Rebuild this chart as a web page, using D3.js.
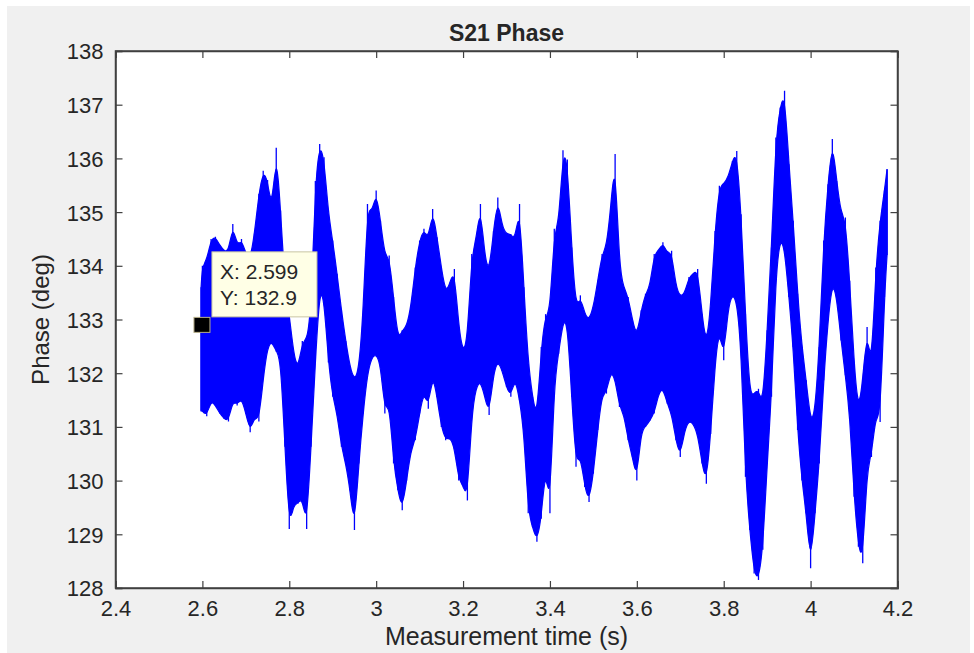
<!DOCTYPE html>
<html>
<head>
<meta charset="utf-8">
<script src="https://cdn.jsdelivr.net/npm/d3@7"></script>
<style>
  html, body { margin: 0; padding: 0; background: #ffffff; }
  svg { display: block; }
  text { font-family: "Liberation Sans", Arial, Helvetica, sans-serif; fill: #262626; }
</style>
</head>
<body>
<svg id="chart" width="974" height="653"></svg>
<script>
// ---- data ----
const chartTitle = "S21 Phase";
const xLabel = "Measurement time (s)";
const yLabel = "Phase (deg)";
const xTicks = [2.4, 2.6, 2.8, 3, 3.2, 3.4, 3.6, 3.8, 4, 4.2];
const yTicks = [128, 129, 130, 131, 132, 133, 134, 135, 136, 137, 138];

// sample times (s)
const times = [2.597,
  2.60, 2.61, 2.62, 2.63, 2.64, 2.65, 2.66, 2.67, 2.68, 2.69,
  2.70, 2.71, 2.72, 2.73, 2.74, 2.75, 2.76, 2.77, 2.78, 2.79,
  2.80, 2.81, 2.82, 2.83, 2.84, 2.85, 2.86, 2.87, 2.88, 2.89,
  2.90, 2.91, 2.92, 2.93, 2.94, 2.95, 2.96, 2.97, 2.98, 2.99,
  3.00, 3.01, 3.02, 3.03, 3.04, 3.05, 3.06, 3.07, 3.08, 3.09,
  3.10, 3.11, 3.12, 3.13, 3.14, 3.15, 3.16, 3.17, 3.18, 3.19,
  3.20, 3.21, 3.22, 3.23, 3.24, 3.25, 3.26, 3.27, 3.28, 3.29,
  3.30, 3.31, 3.32, 3.33, 3.34, 3.35, 3.36, 3.37, 3.38, 3.39,
  3.40, 3.41, 3.42, 3.43, 3.44, 3.45, 3.46, 3.47, 3.48, 3.49,
  3.50, 3.51, 3.52, 3.53, 3.54, 3.55, 3.56, 3.57, 3.58, 3.59,
  3.60, 3.61, 3.62, 3.63, 3.64, 3.65, 3.66, 3.67, 3.68, 3.69,
  3.70, 3.71, 3.72, 3.73, 3.74, 3.75, 3.76, 3.77, 3.78, 3.79,
  3.80, 3.81, 3.82, 3.83, 3.84, 3.85, 3.86, 3.87, 3.88, 3.89,
  3.90, 3.91, 3.92, 3.93, 3.94, 3.95, 3.96, 3.97, 3.98, 3.99,
  4.00, 4.01, 4.02, 4.03, 4.04, 4.05, 4.06, 4.07, 4.08, 4.09,
  4.10, 4.11, 4.12, 4.13, 4.14, 4.15, 4.16, 4.17, 4.176];

// upper envelope of the noisy phase trace (deg)
const phaseHigh = [133.6,
  134.0, 134.1, 134.5, 134.54, 134.38, 134.28, 134.25, 134.78, 134.35, 134.5,
  134.22, 134.1, 134.6, 135.34, 135.77, 135.6, 135.0, 136.2, 135.03, 133.6,
  133.1, 132.36, 132.05, 132.6, 132.6, 133.1, 135.58, 136.27, 136.02, 134.96,
  134.47, 133.85, 133.17, 132.6, 132.1, 131.86, 132.05, 133.1, 135.15, 134.96,
  135.4, 134.84, 134.16, 134.19, 133.42, 132.61, 132.8, 132.86, 133.23, 133.97,
  134.47, 134.69, 134.47, 135.06, 134.53, 133.97, 133.48, 133.69, 133.94, 132.86,
  132.36, 132.61, 134.22, 134.47, 135.15, 134.16, 133.85, 134.65, 135.27, 134.72,
  134.59, 134.59, 134.47, 135.15, 133.6, 132.17, 131.56, 131.12, 132.49, 133.1,
  133.1, 134.69, 134.72, 136.15, 135.98, 134.34, 133.17, 133.45, 133.1, 132.98,
  133.23, 133.72, 134.22, 134.34, 135.09, 136.08, 133.91, 133.6, 133.42, 132.98,
  132.67, 133.17, 133.48, 133.6, 134.22, 134.28, 134.44, 134.22, 134.28, 133.6,
  133.42, 133.48, 133.79, 133.85, 133.94, 133.1, 132.49, 133.23, 134.65, 135.49,
  135.52, 135.64, 135.95, 136.14, 134.96, 133.1, 131.56, 131.62, 131.71, 131.37,
  132.8, 134.34, 136.39, 136.95, 137.26, 135.89, 134.84, 133.48, 132.49, 131.87,
  131.06, 131.25, 132.49, 134.47, 135.52, 136.36, 135.58, 134.96, 134.9, 133.72,
  132.18, 131.25, 131.87, 132.86, 132.0, 133.97, 134.84, 135.4, 135.8];

// lower envelope of the noisy phase trace (deg)
const phaseLow = [131.3,
  131.3, 131.2, 131.5, 131.4, 131.25, 131.15, 131.1, 131.5, 131.4, 131.55,
  131.25, 130.9, 131.2, 131.1, 131.9, 132.5, 132.6, 132.4, 132.3, 130.63,
  129.1, 129.57, 129.57, 129.7, 129.1, 130.63, 132.2, 133.6, 133.4, 132.2,
  131.56, 131.25, 130.63, 130.32, 129.82, 129.08, 130.32, 131.25, 132.0, 132.3,
  132.36, 132.18, 131.25, 131.49, 130.32, 129.82, 129.45, 130.0, 130.57, 130.75,
  131.25, 131.68, 131.34, 132.0, 131.56, 131.0, 130.75, 130.81, 130.63, 130.0,
  129.92, 129.63, 131.25, 131.74, 131.87, 131.56, 131.22, 132.0, 132.24, 132.05,
  131.74, 131.56, 131.93, 131.5, 130.94, 129.39, 129.14, 128.86, 129.29, 130.32,
  129.39, 131.87, 132.36, 132.98, 132.98, 131.56, 130.26, 130.5, 129.88, 129.6,
  130.13, 130.94, 131.62, 131.62, 132.05, 131.9, 131.37, 131.25, 130.75, 130.44,
  130.0, 130.94, 131.0, 131.12, 131.25, 131.62, 131.74, 131.43, 131.25, 130.75,
  130.44, 130.94, 131.12, 131.06, 130.87, 130.32, 129.94, 130.87, 132.18, 132.86,
  132.24, 133.23, 133.48, 133.35, 132.49, 130.07, 129.08, 128.27, 128.15, 128.71,
  130.32, 131.56, 133.85, 134.53, 134.34, 133.42, 132.49, 130.94, 130.0, 129.39,
  128.37, 129.39, 130.32, 131.87, 132.98, 133.72, 133.42, 132.61, 131.96, 131.25,
  129.7, 128.77, 128.46, 130.26, 130.44, 131.25, 131.09, 133.42, 134.2];

// data tip
const tipX = [2.599];
const tipY = [132.9];
const tipLines = ["X: 2.599", "Y: 132.9"];

// ---- drawing ----
const W = 974, H = 653;
const margin = { left: 115.5, right: 76.5, top: 51, bottom: 65 };
const svg = d3.select("#chart");

// figure background
svg.append("rect").attr("x", 0).attr("y", 0).attr("width", W).attr("height", H).attr("fill", "#ffffff");
svg.append("rect").attr("x", 7).attr("y", 6).attr("width", 963).attr("height", H - 6).attr("fill", "#f0f0f0");

const x = d3.scaleLinear().domain([2.4, 4.2]).range([margin.left, W - margin.right]);
const y = d3.scaleLinear().domain([128, 138]).range([H - margin.bottom, margin.top]);

const x0 = x.range()[0], x1 = x.range()[1], y0 = y.range()[1], y1 = y.range()[0];

// axes background
svg.append("rect").attr("x", x0).attr("y", y0).attr("width", x1 - x0).attr("height", y1 - y0).attr("fill", "#ffffff");

// data
const pts = times.map((t, i) => ({ t: t, hi: phaseHigh[i], lo: phaseLow[i] }));
svg.append("clipPath").attr("id", "clip").append("rect")
  .attr("x", x0).attr("y", y0).attr("width", x1 - x0).attr("height", y1 - y0);
const plot = svg.append("g").attr("clip-path", "url(#clip)");

// dense band of the trace
const area = d3.area().curve(d3.curveBasis).x(d => x(d.t)).y0(d => y(d.lo)).y1(d => y(d.hi));
plot.append("path").datum(pts).attr("d", area)
  .attr("fill", "#0000ff").attr("stroke", "#0000ff").attr("stroke-width", 1.2);

// thin noise spikes reaching the extreme values
plot.selectAll("line.spike").data(pts).enter().append("line").attr("class", "spike")
  .attr("x1", d => x(d.t)).attr("x2", d => x(d.t))
  .attr("y1", d => y(d.lo)).attr("y2", d => y(d.hi))
  .attr("stroke", "#0000ff").attr("stroke-width", 1.3);

// axes
const axisColor = "#404040";
const tickLen = 7;
const gBottom = svg.append("g").attr("transform", `translate(0,${y1})`)
  .call(d3.axisBottom(x).tickValues(xTicks).tickSize(-tickLen).tickPadding(12).tickFormat(d3.format("~g")));
const gTop = svg.append("g").attr("transform", `translate(0,${y0})`)
  .call(d3.axisTop(x).tickValues(xTicks).tickSize(-tickLen).tickFormat(""));
const gLeft = svg.append("g").attr("transform", `translate(${x0},0)`)
  .call(d3.axisLeft(y).tickValues(yTicks).tickSize(-tickLen).tickPadding(12).tickFormat(d3.format("~g")));
const gRight = svg.append("g").attr("transform", `translate(${x1},0)`)
  .call(d3.axisRight(y).tickValues(yTicks).tickSize(-tickLen).tickFormat(""));

[gBottom, gTop, gLeft, gRight].forEach(g => {
  g.select(".domain").attr("stroke", axisColor).attr("stroke-width", 1.5);
  g.selectAll(".tick line").attr("stroke", axisColor).attr("stroke-width", 1.2);
  g.selectAll(".tick text").attr("font-size", 22).attr("fill", "#262626")
    .attr("font-family", '"Liberation Sans", Arial, sans-serif');
});
gLeft.selectAll(".tick text").attr("dy", "0.36em");
gBottom.selectAll(".tick text").attr("dy", "0.71em");

// frame outline on top
svg.append("rect").attr("x", x0).attr("y", y0).attr("width", x1 - x0).attr("height", y1 - y0)
  .attr("fill", "none").attr("stroke", axisColor).attr("stroke-width", 1.5);

// title and labels
svg.append("text").attr("x", (x0 + x1) / 2).attr("y", 41).attr("text-anchor", "middle")
  .attr("font-size", 23).attr("font-weight", "bold").attr("fill", "#000000").text(chartTitle);
svg.append("text").attr("x", (x0 + x1) / 2).attr("y", 645).attr("text-anchor", "middle")
  .attr("font-size", 25).text(xLabel);
svg.append("text").attr("transform", `translate(49,${(y0 + y1) / 2}) rotate(-90)`).attr("text-anchor", "middle")
  .attr("font-size", 24).text(yLabel);

// data tip
const tipCx = x(tipX[0]), tipCy = y(tipY[0]);
const tip = svg.append("g");
tip.append("rect").attr("x", tipCx - 8).attr("y", tipCy - 7.5).attr("width", 16).attr("height", 15)
  .attr("fill", "#000000").attr("stroke", "#b8b08a").attr("stroke-width", 1);
const bx = tipCx + 10, by = tipCy - 73, bw = 105, bh = 65;
tip.append("rect").attr("x", bx).attr("y", by).attr("width", bw).attr("height", bh)
  .attr("fill", "#ffffe6").attr("stroke", "#c9c5a3").attr("stroke-width", 1);
tip.selectAll("text.tipline").data(tipLines).enter().append("text").attr("class", "tipline")
  .attr("x", bx + 8).attr("y", (d, i) => by + 27 + i * 26)
  .attr("font-size", 21).attr("fill", "#262626").text(d => d);
</script>
</body>
</html>
